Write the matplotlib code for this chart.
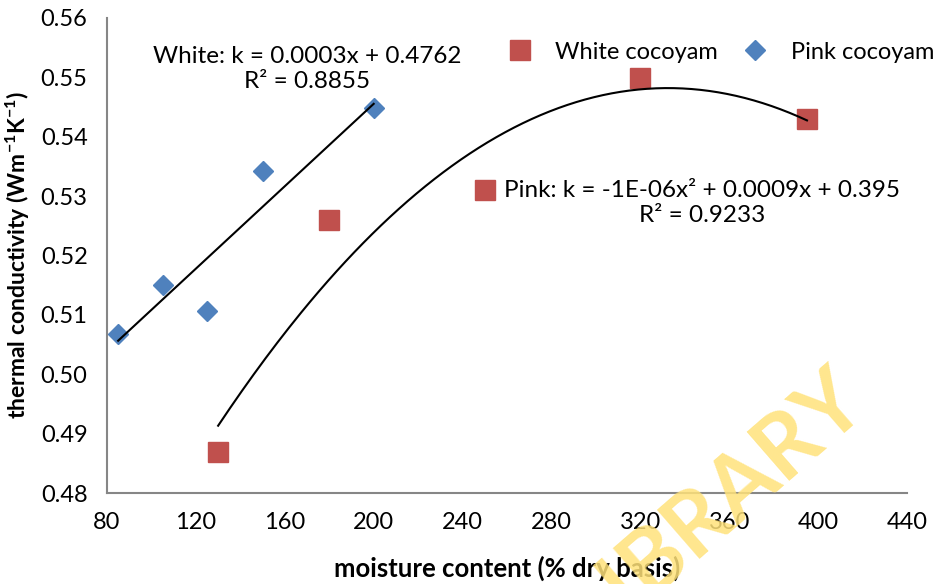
import numpy as np
import matplotlib
matplotlib.use("Agg")
import matplotlib.pyplot as plt

plt.rcParams['font.family'] = ['Lato', 'DejaVu Sans']
plt.rcParams['mathtext.default'] = 'regular'

# Data
pink_x = [85, 105, 125, 150, 200]
pink_y = [0.5068, 0.5150, 0.5107, 0.5342, 0.5448]
white_x = [130, 180, 250, 320, 395]
white_y = [0.4869, 0.5260, 0.5310, 0.5499, 0.5430]

xticks = [80, 120, 160, 200, 240, 280, 320, 360, 400, 440]
yticks = [0.48, 0.49, 0.50, 0.51, 0.52, 0.53, 0.54, 0.55, 0.56]

red = '#C0504D'
blue = '#4F81BD'

fig = plt.figure(figsize=(9.43, 5.84), dpi=100)
ax = fig.add_axes([0.1135, 0.1558, 0.8483, 0.8134])
ax.set_facecolor('none')

ax.plot(white_x, white_y, 's', color=red, markersize=14, label='White cocoyam', zorder=3)
ax.plot(pink_x, pink_y, 'D', color=blue, markersize=10, label='Pink cocoyam', zorder=3)

# trendlines
p1 = np.polyfit(pink_x, pink_y, 1)
xl = np.linspace(min(pink_x), max(pink_x), 50)
ax.plot(xl, np.polyval(p1, xl), color='black', lw=1.5, zorder=4)
p2 = np.polyfit(white_x, white_y, 2)
xq = np.linspace(min(white_x), max(white_x), 200)
ax.plot(xq, np.polyval(p2, xq), color='black', lw=1.5, zorder=4)

ax.set_xlim(80, 440)
ax.set_ylim(0.48, 0.56)
ax.set_xticks(xticks)
ax.set_yticks(yticks)
ax.set_xticklabels([str(t) for t in xticks])
ax.set_yticklabels([f'{t:.2f}' for t in yticks])
ax.tick_params(length=0, labelsize=17, colors='black')
ax.tick_params(axis='x', pad=14)
ax.tick_params(axis='y', pad=14)
for s in ['top', 'right']:
    ax.spines[s].set_visible(False)
for s in ['left', 'bottom']:
    ax.spines[s].set_color('#868686')
    ax.spines[s].set_linewidth(1.5)

ax.set_xlabel('moisture content (% dry basis)', fontsize=18.5, fontweight='bold', labelpad=16)
ax.set_ylabel('thermal conductivity (Wm$^{-1}$K$^{-1}$)', fontsize=16.5, fontweight='bold', labelpad=6)

fig.text(307 / 943, 1 - 69 / 584, 'White: k = 0.0003x + 0.4762\nR² = 0.8855', ha='center',
         va='center', fontsize=17.5, linespacing=1.25, zorder=5)
fig.text(702 / 943, 1 - 203 / 584, 'Pink: k = -1E-06x² + 0.0009x + 0.395\nR² = 0.9233', ha='center',
         va='center', fontsize=17.5, linespacing=1.25, zorder=5)

ax.legend(loc='center', bbox_to_anchor=(0.766, 0.928), ncol=2, frameon=False, fontsize=17,
          columnspacing=1.0, handletextpad=0.9, handlelength=1.2, borderpad=0)

fig.text(715 / 943, 1 - 505 / 584, 'LIBRARY', rotation=41, fontsize=64, fontweight='bold',
         color='#FFE27A', ha='center', va='center', zorder=0.5, alpha=0.85)

fig.savefig('out.png', dpi=100)
